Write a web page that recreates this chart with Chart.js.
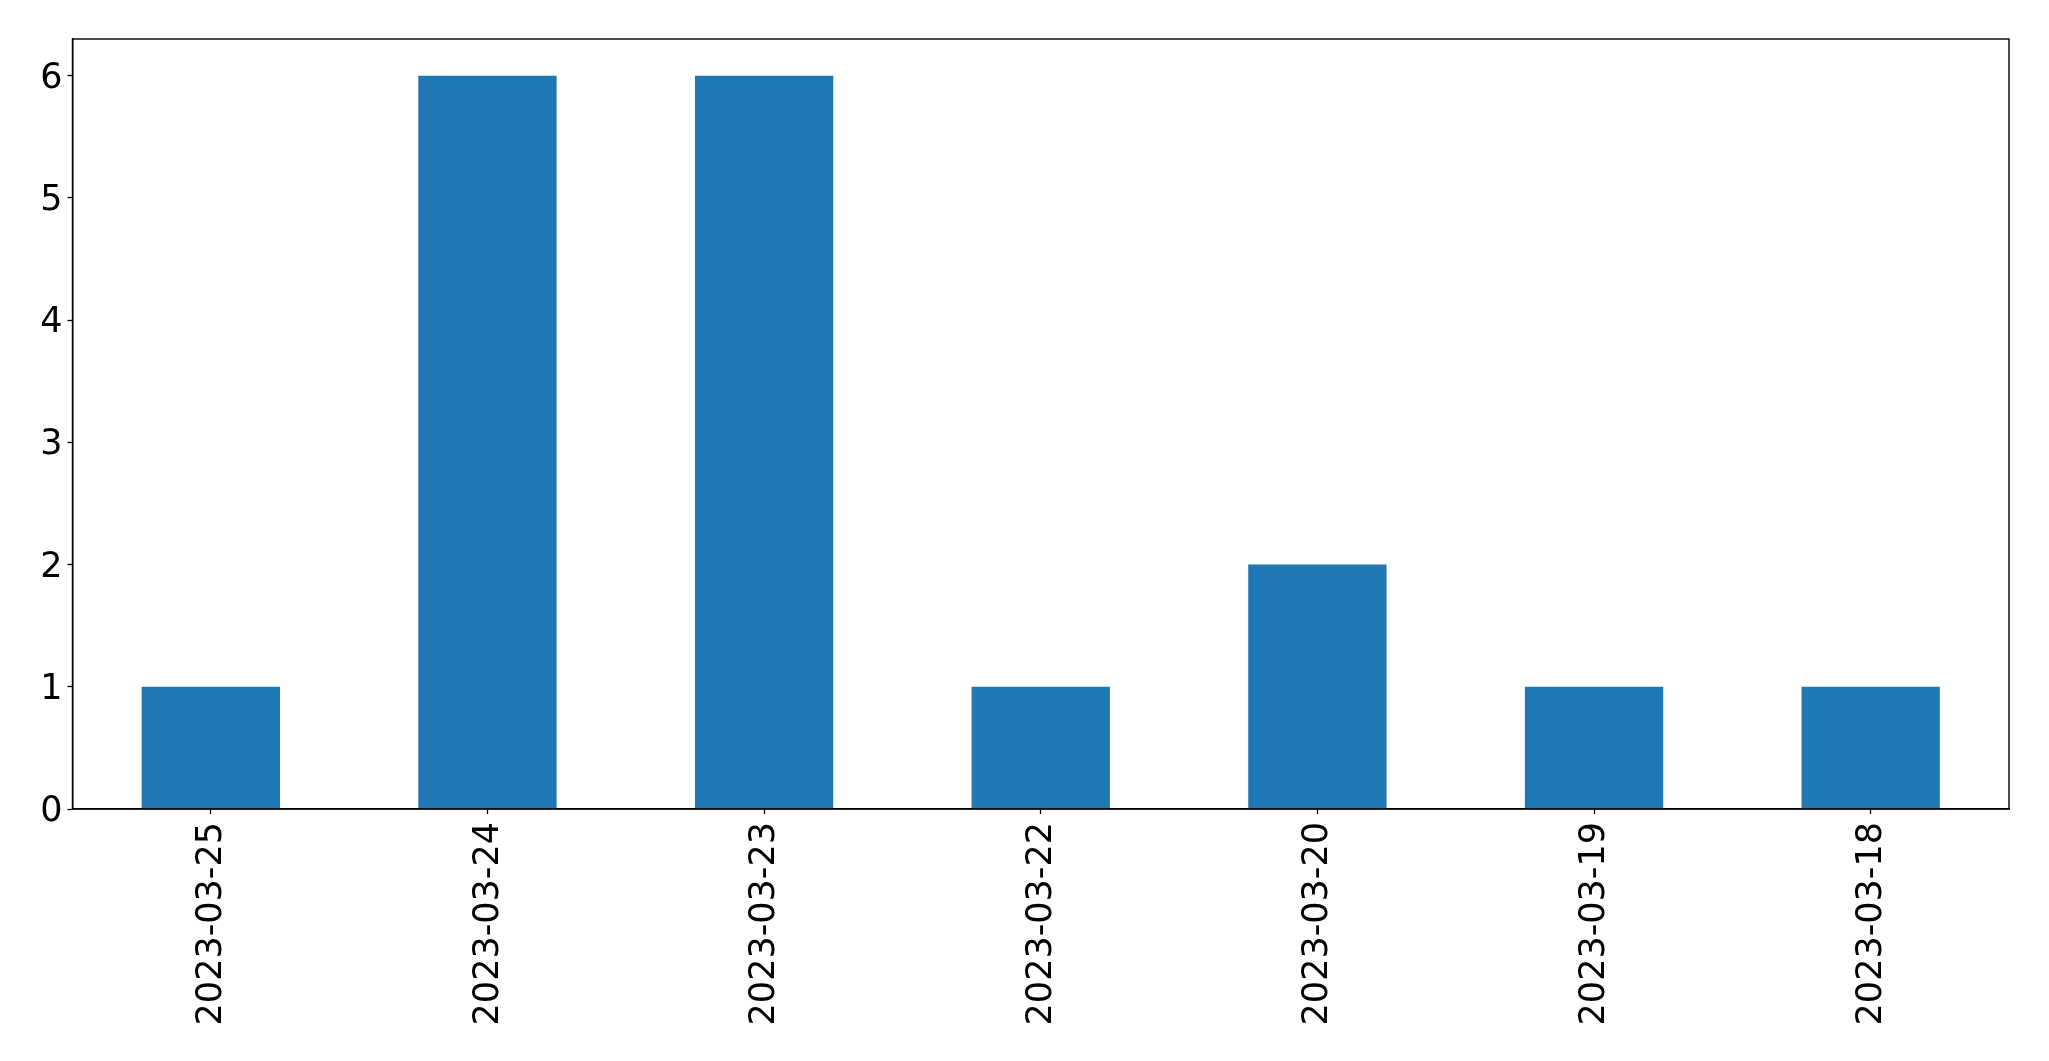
<!DOCTYPE html>
<html lang="en">
<head>
    <meta charset="UTF-8">
    <title>Counts per day</title>
    <script src="https://cdn.jsdelivr.net/npm/chart.js"></script>
    <style>
        html, body { margin: 0; padding: 0; background: #fff; }
        #countChart { display: block; }
    </style>
</head>
<body>
    <canvas id="countChart" width="2049" height="1061"></canvas>

    <script>
        // data
        const dates = ['2023-03-25', '2023-03-24', '2023-03-23', '2023-03-22', '2023-03-20', '2023-03-19', '2023-03-18'];
        const counts = [1, 6, 6, 1, 2, 1, 1];
        const yTicks = [0, 1, 2, 3, 4, 5, 6];

        // draw the frame round the plot area, like a matplotlib axes box
        const frame = {
            id: 'frame',
            afterDraw(chart) {
                const a = chart.chartArea;
                const c = chart.ctx;
                c.save();
                c.strokeStyle = '#000';
                c.lineWidth = 1.4;
                c.strokeRect(a.left, a.top, a.right - a.left, a.bottom - a.top);
                c.restore();
            }
        };

        const ctx = document.getElementById('countChart').getContext('2d');
        new Chart(ctx, {
            type: 'bar',
            data: {
                labels: dates,
                datasets: [{
                    data: counts,
                    backgroundColor: '#1f77b4',
                    borderWidth: 0,
                    categoryPercentage: 1.0,
                    barPercentage: 0.5
                }]
            },
            options: {
                responsive: false,
                animation: false,
                layout: { padding: { left: 0, right: 40, top: 39, bottom: 0 } },
                plugins: {
                    legend: { display: false },
                    tooltip: { enabled: false }
                },
                scales: {
                    x: {
                        grid: { offset: false, drawOnChartArea: false, drawTicks: true, tickLength: 5, tickColor: '#000', tickWidth: 1.3 },
                        border: { display: true, color: '#000', width: 1.4 },
                        ticks: {
                            color: '#000',
                            font: { family: 'DejaVu Sans', size: 35 },
                            minRotation: 90,
                            maxRotation: 90,
                            padding: 8,
                            labelOffset: 1,
                            autoSkip: false
                        },
                        afterFit(scale) { scale.height = 252; }
                    },
                    y: {
                        min: 0,
                        max: 6.3,
                        grid: { drawOnChartArea: false, drawTicks: true, tickLength: 5, tickColor: '#000', tickWidth: 1.3 },
                        border: { display: true, color: '#000', width: 1.4 },
                        ticks: {
                            color: '#000',
                            font: { family: 'DejaVu Sans', size: 35 },
                            stepSize: 1,
                            includeBounds: false,
                            padding: 5,
                            labelOffset: 3
                        },
                        afterBuildTicks(scale) {
                            scale.ticks = yTicks.map(v => ({ value: v }));
                        },
                        afterFit(scale) { scale.width = 72.5; }
                    }
                }
            },
            plugins: [frame]
        });
    </script>
</body>
</html>
